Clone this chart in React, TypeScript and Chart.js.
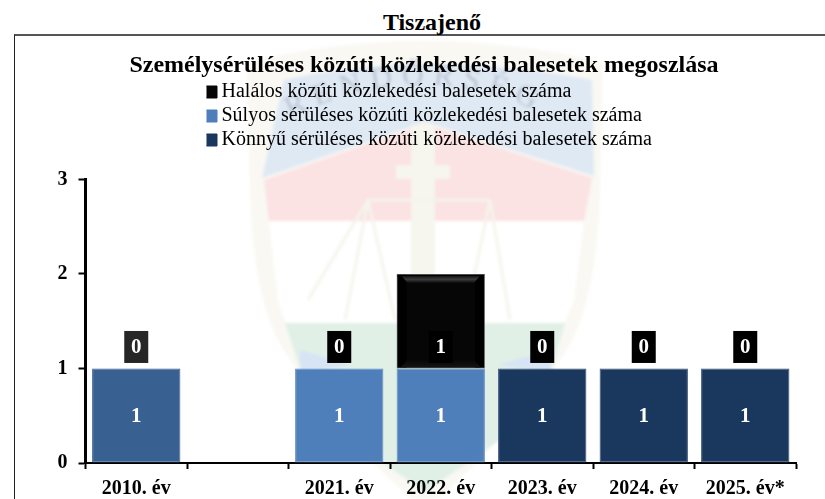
import React, { useEffect, useRef } from "react";
import { Chart, registerables } from "chart.js";

Chart.register(...registerables);

const FONT = '"Liberation Serif", "Times New Roman", serif';

const pageTitle = "Tiszajenő";
const chartTitle = "Személysérüléses közúti közlekedési balesetek megoszlása";
const categories = ["2010. év", "", "2021. év", "2022. év", "2023. év", "2024. év", "2025. év*"];
const fatalValues = [0, null, 0, 1, 0, 0, 0];
const severeValues = [1, null, 1, 1, 0, 0, 0];
const lightValues = [0, null, 0, 0, 1, 1, 1];
const fatalLabel = "Halálos közúti közlekedési balesetek száma";
const severeLabel = "Súlyos sérüléses közúti közlekedési balesetek száma";
const lightLabel = "Könnyű sérüléses közúti közlekedési balesetek száma";
const yTicks = [0, 1, 2, 3];

const FATAL = "#060606";
const SEVERE = "#4f7fbb";
const SEVERE_2010 = "#386192";
const LIGHT = "#1a375e";

const placeLegend = {
  id: "placeLegend",
  afterLayout(chart: any) {
    const l = chart.legend;
    const w = l.right - l.left;
    l.left = 206.5;
    l.right = 206.5 + w;
    l.top = 78;
    l.bottom = 78 + 100;
  },
};

const bevel = {
  id: "bevel",
  afterDatasetsDraw(chart: any) {
    const ctx = chart.ctx;
    const di = chart.data.datasets.findIndex((d: any) => d.label === fatalLabel);
    const meta = chart.getDatasetMeta(di);
    meta.data.forEach((el: any, i: number) => {
      const v = chart.data.datasets[di].data[i];
      if (!v) return;
      const half = el.width / 2;
      const l = el.x - half + 1;
      const r = el.x + half - 1;
      const t = el.y + 1;
      const b = el.base - 1;
      const ix = 10;
      const iy = 8;
      ctx.save();
      ctx.fillStyle = "#000";
      ctx.fillRect(l, t, 9, b - t);
      ctx.fillRect(r - 9, t, 9, b - t);
      ctx.fillRect(l, t, r - l, 2);
      const g = ctx.createLinearGradient(0, t, 0, t + iy);
      g.addColorStop(0, "#060606");
      g.addColorStop(0.55, "#3c3c3c");
      g.addColorStop(1, "#0a0a0a");
      ctx.fillStyle = g;
      ctx.beginPath();
      ctx.moveTo(l + 4, t + 1);
      ctx.lineTo(r - 4, t + 1);
      ctx.lineTo(r - ix, t + iy);
      ctx.lineTo(l + ix, t + iy);
      ctx.closePath();
      ctx.fill();
      const g2 = ctx.createLinearGradient(0, b - iy, 0, b);
      g2.addColorStop(0, "#060606");
      g2.addColorStop(1, "#141414");
      ctx.fillStyle = g2;
      ctx.beginPath();
      ctx.moveTo(l + 3, b);
      ctx.lineTo(r - 3, b);
      ctx.lineTo(r - ix, b - iy);
      ctx.lineTo(l + ix, b - iy);
      ctx.closePath();
      ctx.fill();
      ctx.restore();
    });
  },
};

const valueLabels = {
  id: "valueLabels",
  afterDatasetsDraw(chart: any) {
    const ctx = chart.ctx;
    ctx.save();
    ctx.textAlign = "center";
    ctx.textBaseline = "middle";
    ctx.font = `bold 21px ${FONT}`;
    chart.data.datasets.forEach((ds: any, di: number) => {
      const meta = chart.getDatasetMeta(di);
      meta.data.forEach((el: any, i: number) => {
        const v = ds.data[i];
        if (v === null || v === undefined) return;
        if (ds.label === fatalLabel) {
          const cy = el.base - 21.5;
          ctx.fillStyle = i === 0 ? "#262626" : "#000000";
          ctx.fillRect(el.x - 12, cy - 16, 24, 32);
          ctx.fillStyle = "#ffffff";
          ctx.fillText(String(v), el.x, cy + 1);
        } else if (v > 0) {
          ctx.fillStyle = "#ffffff";
          ctx.fillText(String(v), el.x, (el.y + el.base) / 2 + 1);
        }
      });
    });
    ctx.restore();
  },
};

function Watermark() {
  return (
    <svg
      width={825}
      height={499}
      style={{ position: "absolute", left: 0, top: 0, filter: "blur(1.5px)" }}
    >
      <path
        d="M247 62 Q425 20 603 62 L600 190 Q598 290 570 345 Q500 450 425 510 Q350 450 280 345 Q252 290 250 190 Z"
        fill="#f9f8f3"
      />
      <path d="M262 178 L284 80 Q425 48 592 80 L594 176 L425 122 Z" fill="#dfe9f4" />
      <path d="M264 180 L425 124 L592 178 L584 221 L269 221 Z" fill="#fbe2e3" />
      <path d="M269 221 L584 221 L574 300 Q560 340 545 345 L305 345 Q285 330 278 300 Z" fill="#ffffff" />
      <path d="M285 323 L565 323 L552 368 L500 440 L425 492 L350 440 L300 368 Z" fill="#e0f0e7" />
      <path d="M300 350 L352 365 L300 372 Z" fill="#d6e4f5" />
      <path d="M550 350 L498 365 L550 372 Z" fill="#d6e4f5" />
      <rect x="411" y="125" width="24" height="220" fill="#f6f5ee" />
      <rect x="396" y="165" width="54" height="14" fill="#f6f5ee" />
      <path
        d="M308 300 L368 200 L490 200 M368 200 L345 320 M368 200 L395 320 M490 200 L465 320 M490 200 L510 320"
        fill="none"
        stroke="#f5f4ed"
        strokeWidth="3"
      />
      <path id="wmArc" d="M290 118 Q425 50 555 120" fill="none" />
      <text fontFamily={FONT} fontSize="30" fill="#bcc4d3" letterSpacing="9">
        <textPath href="#wmArc">RENDŐRSÉG</textPath>
      </text>
    </svg>
  );
}

export default function App() {
  const ref = useRef<HTMLCanvasElement>(null);
  useEffect(() => {
    const chart = new Chart(ref.current as HTMLCanvasElement, {
      type: "bar",
      data: {
        labels: categories,
        datasets: [
          {
            label: lightLabel,
            data: lightValues,
            backgroundColor: LIGHT,
            borderColor: "#2f4e75",
            borderWidth: 1,
            borderSkipped: false,
          },
          {
            label: severeLabel,
            data: severeValues,
            backgroundColor: (c: any) =>
              c.type === "data" && c.dataIndex === 0 ? SEVERE_2010 : SEVERE,
            borderColor: (c: any) =>
              c.type === "data" && c.dataIndex === 0 ? SEVERE_2010 : "#5f8cc4",
            borderWidth: 1,
            borderSkipped: false,
          },
          {
            label: fatalLabel,
            data: fatalValues,
            backgroundColor: FATAL,
            borderColor: "#555555",
            borderWidth: 1,
            borderSkipped: false,
          },
        ] as any,
      },
      options: {
        responsive: false,
        animation: false,
        layout: { padding: { left: 52, right: 29, top: 0, bottom: 0 } },
        datasets: { bar: { categoryPercentage: 1, barPercentage: 0.87 } },
        plugins: {
          tooltip: { enabled: false },
          title: {
            display: true,
            text: chartTitle,
            color: "#000",
            font: { family: FONT, size: 24, weight: "bold", lineHeight: 1.2 },
            padding: { top: 51.6, bottom: 99 },
          },
          legend: {
            position: "chartArea",
            align: "start",
            reverse: true,
            labels: {
              color: "#000",
              font: { family: FONT, size: 20 },
              usePointStyle: true,
              pointStyle: "rect",
              boxWidth: 1,
              boxHeight: 12,
              padding: 4,
              generateLabels: (chart: any) =>
                (Chart.defaults.plugins.legend.labels as any)
                  .generateLabels(chart)
                  .map((item: any) => ({
                    ...item,
                    fillStyle: item.text === severeLabel ? SEVERE : item.fillStyle,
                    strokeStyle: item.text === severeLabel ? SEVERE : item.fillStyle,
                  })),
            },
          },
        } as any,
        scales: {
          x: {
            stacked: true,
            offset: true,
            afterFit: (s: any) => {
              s.height = 36;
            },
            grid: {
              offset: true,
              drawOnChartArea: false,
              drawTicks: true,
              tickLength: 6,
              tickWidth: 2,
              tickColor: "#000",
            },
            border: { color: "#000", width: 2 },
            ticks: {
              autoSkip: false,
              maxRotation: 0,
              padding: 8,
              color: "#000",
              font: { family: FONT, size: 20, weight: "bold" },
            },
          },
          y: {
            stacked: true,
            min: 0,
            max: yTicks[yTicks.length - 1],
            afterFit: (s: any) => {
              s.width = 33.5;
            },
            afterBuildTicks: (s: any) => {
              s.ticks = yTicks.map((value) => ({ value }));
            },
            grid: {
              drawOnChartArea: false,
              drawTicks: true,
              tickLength: 7,
              tickWidth: 2,
              tickColor: "#000",
            },
            border: { color: "#000", width: 3 },
            ticks: {
              padding: 11,
              color: "#000",
              font: { family: FONT, size: 20, weight: "bold" },
            },
          },
        },
      } as any,
      plugins: [placeLegend, bevel, valueLabels],
    });
    return () => chart.destroy();
  }, []);

  return (
    <div style={{ position: "absolute", left: 0, top: 0, width: 825, height: 499, overflow: "hidden", background: "#fff" }}>
      <Watermark />
      <div
        style={{
          position: "absolute",
          left: 14,
          top: 34,
          width: 811,
          height: 465,
          borderTop: "2px solid #555",
          borderLeft: "1px solid #222",
          boxSizing: "border-box",
        }}
      />
      <div
        style={{
          position: "absolute",
          left: 332,
          width: 200,
          top: 9,
          textAlign: "center",
          fontFamily: FONT,
          fontWeight: "bold",
          fontSize: 24,
          lineHeight: "26px",
          color: "#000",
        }}
      >
        {pageTitle}
      </div>
      <canvas ref={ref} width={825} height={499} style={{ position: "absolute", left: 0, top: 0 }} />
    </div>
  );
}
